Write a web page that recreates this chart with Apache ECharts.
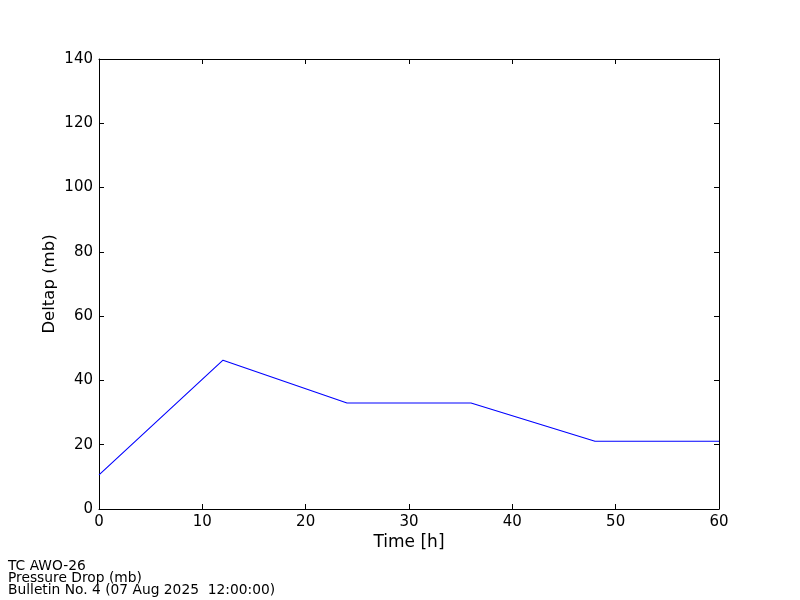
<!DOCTYPE html>
<html><head><meta charset="utf-8">
<script src="https://cdn.jsdelivr.net/npm/echarts@6/dist/echarts.min.js"></script>
<style>html,body{margin:0;padding:0;background:#fff}#c{width:800px;height:600px}</style>
</head><body><div id="c"></div>
<script>
const hours = [0, 12, 24, 36, 48, 60];
const deltap = [10.6, 46.3, 33.0, 33.0, 21.1, 21.1];
const footerLines = ['TC AWO-26', 'Pressure Drop (mb)', 'Bulletin No. 4 (07 Aug 2025  12:00:00)'];

const chart = echarts.init(document.getElementById('c'));
const font = 'DejaVu Sans';
const axisLine = {show: true, onZero: false, lineStyle: {color: '#000', width: 1}};
const tick = {show: true, inside: true, length: 5, lineStyle: {color: '#000'}};
chart.setOption({
  animation: false,
  grid: {left: 99, top: 59, width: 620, height: 450, containLabel: false},
  xAxis: [{
    type: 'value', min: 0, max: 60, interval: 10, position: 'bottom',
    name: 'Time [h]', nameLocation: 'middle', nameGap: 25, nameMoveOverlap: false,
    nameTextStyle: {fontFamily: font, fontSize: 17, color: '#000'},
    axisLine, axisTick: tick, splitLine: {show: false},
    axisLabel: {fontFamily: font, fontSize: 15, color: '#000', margin: 6}
  }, {
    type: 'value', min: 0, max: 60, interval: 10, position: 'top',
    axisLine, axisTick: tick, splitLine: {show: false}, axisLabel: {show: false}
  }],
  yAxis: [{
    type: 'value', min: 0, max: 140, interval: 20, position: 'left',
    name: 'Deltap (mb)', nameLocation: 'middle', nameGap: 41, nameMoveOverlap: false,
    nameTextStyle: {fontFamily: font, fontSize: 16.5, color: '#000'},
    axisLine, axisTick: tick, splitLine: {show: false},
    axisLabel: {fontFamily: font, fontSize: 15, color: '#000', margin: 6, padding: [2, 0, 0, 0]}
  }, {
    type: 'value', min: 0, max: 140, interval: 20, position: 'right',
    axisLine, axisTick: tick, splitLine: {show: false}, axisLabel: {show: false}
  }],
  series: [{
    type: 'line', xAxisIndex: 0, yAxisIndex: 0,
    data: hours.map((h, i) => [h, deltap[i]]),
    symbol: 'none', lineStyle: {color: '#0000ff', width: 1.1}
  }],
  graphic: footerLines.map((t, i) => ({
    type: 'text', left: 8, top: 559 + i * 12,
    style: {text: t, fontFamily: font, fontSize: 13.8, fill: '#000'}
  }))
});
</script></body></html>
